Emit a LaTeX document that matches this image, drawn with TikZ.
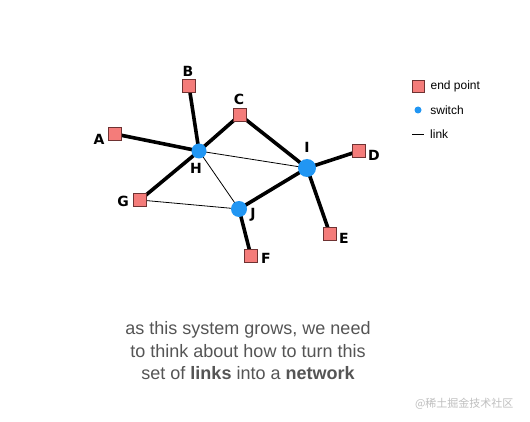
\documentclass[tikz,border=0pt]{standalone}
\usepackage{fontspec}
\setmainfont{Liberation Sans}
\newfontfamily\etiq{DejaVu Sans}
\newfontfamily\cjk{Noto Sans CJK SC}
\usetikzlibrary{positioning}
\pgfdeclarelayer{lienzo}
\pgfdeclarelayer{fondo}
\pgfsetlayers{lienzo,fondo,main}
\definecolor{rojizo}{RGB}{244,124,122}
\definecolor{bordeoscuro}{RGB}{110,50,50}
\definecolor{azul}{RGB}{33,150,243}
\definecolor{textogris}{RGB}{85,85,85}

\begin{document}
\begin{tikzpicture}[
        x=1pt, y=-1pt,
        extremo/.style={draw=bordeoscuro, fill=rojizo, line width=0.8pt, minimum size=12.5pt, inner sep=0pt},
        conmutador/.style={circle, fill=azul, inner sep=0pt, minimum size=15pt},
        etiqueta/.style={font=\etiq\bfseries\fontsize{14}{14}\selectfont, inner sep=1pt},
        enlace/.style={line width=3.6pt},
        enlacefino/.style={line width=0.8pt},
        leyenda/.style={font=\fontsize{12}{12}\selectfont, anchor=west, inner sep=0pt}
    ]
        \begin{pgfonlayer}{lienzo}
        \fill[white] (0,0) rectangle (530,422);
        \end{pgfonlayer}
        \useasboundingbox (0,0) rectangle (530,422);

        % switches
        \node[conmutador] (h) at (199,151) {};
        \node[conmutador, minimum size=18pt] (i) at (307,168) {};
        \node[conmutador, minimum size=16pt] (j) at (239,209) {};

        % end points
        \node[extremo] (a) at (115,134) {};
        \node[extremo] (b) at (189,86) {};
        \node[extremo] (c) at (240,115) {};
        \node[extremo] (d) at (359,151) {};
        \node[extremo] (e) at (330,234) {};
        \node[extremo] (f) at (251,256) {};
        \node[extremo] (g) at (140,200) {};

        \node[etiqueta] (la) at (99,139) {A};
        \node[etiqueta] (lb) at (188,71) {B};
        \node[etiqueta] (lc) at (239,99) {C};
        \node[etiqueta] (ld) at (374,155) {D};
        \node[etiqueta] (le) at (344,238) {E};
        \node[etiqueta] (lf) at (266,258) {F};
        \node[etiqueta] (lg) at (123,201) {G};
        \node[etiqueta] (lh) at (196,168) {H};
        \node[etiqueta] (li) at (307,147) {I};
        \node[etiqueta] (lj) at (253,215) {J};

        % links
        \begin{pgfonlayer}{fondo}
        \draw[enlacefino] (h.center) -- (i.center);
        \draw[enlacefino] (h.center) -- (j.center);
        \draw[enlacefino] (g.center) -- (j.center);
        \draw[enlace] (a.center) -- (h.center);
        \draw[enlace] (b.center) -- (h.center);
        \draw[enlace] (c.center) -- (h.center);
        \draw[enlace] (g.center) -- (h.center);
        \draw[enlace] (c.center) -- (i.center);
        \draw[enlace] (i.center) -- (d.center);
        \draw[enlace] (i.center) -- (e.center);
        \draw[enlace] (i.center) -- (j.center);
        \draw[enlace] (j.center) -- (f.center);
        \end{pgfonlayer}

        % legend
        \node[extremo, minimum size=12pt] (kext) at (418,86) {};
        \node[leyenda, right=6pt of kext] (text) {end point};
        \node[circle, fill=azul, inner sep=0pt, minimum size=7pt] (ksw) at (418,110) {};
        \node[leyenda, right=8.5pt of ksw] (tsw) {switch};
        \coordinate (kl1) at (412,134);
        \coordinate (kl2) at (424,134);
        \draw[line width=0.8pt] (kl1) -- (kl2);
        \node[leyenda, right=6pt of kl2] (tlink) {link};

        % caption
        \node[font=\fontsize{18}{22.5}\selectfont, text=textogris, align=center] (nota) at (248,351)
            {as this system grows, we need\\to think about how to turn this\\set of \textbf{links} into a \textbf{network}};

        \node[font=\cjk\fontsize{11}{11}\selectfont, text=black!25, anchor=east] (marca) at (517,404) {@稀土掘金技术社区};
    \end{tikzpicture}
\end{document}
